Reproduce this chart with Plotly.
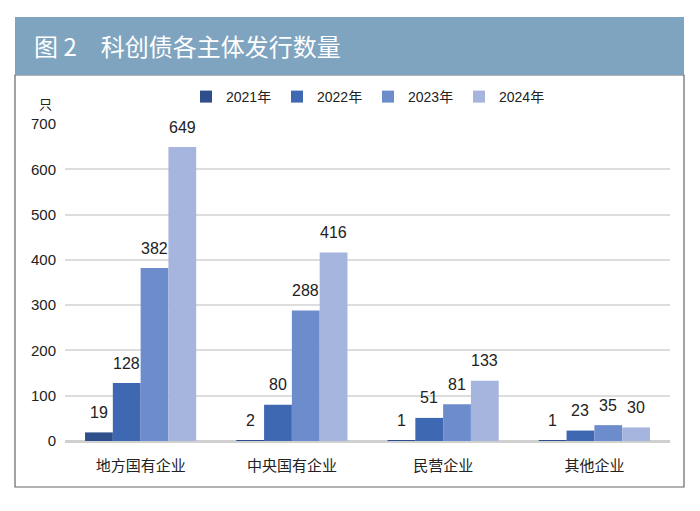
import plotly.graph_objects as go

categories = ["地方国有企业", "中央国有企业", "民营企业", "其他企业"]
series_names = ["2021年", "2022年", "2023年", "2024年"]
v2021 = [19, 2, 1, 1]
v2022 = [128, 80, 51, 23]
v2023 = [382, 288, 81, 35]
v2024 = [649, 416, 133, 30]
y_ticks = [0, 100, 200, 300, 400, 500, 600, 700]

series_values = [v2021, v2022, v2023, v2024]
colors = ["#2f4f8c", "#3f68b3", "#6d8ccb", "#a6b5dd"]

# page has an 8px body margin; figure sized to fill the rest of the window
OFF = 8
W, H = 700 - OFF, 511 - OFF
L, R, T, B = 65 - OFF, 700 - 670, 124 - OFF, 511 - 441
pw, ph = W - L - R, H - T - B
def px(x):  # screen pixel -> paper
    return (x - OFF - L) / pw
def py(y):
    return (H - B - (y - OFF)) / ph

FONT = "Liberation Sans, Arial, Noto Sans CJK SC, sans-serif"
CJK = "Noto Sans CJK SC, sans-serif"
bargap = 0.265

fig = go.Figure()
for name, vals, c in zip(series_names, series_values, colors):
    fig.add_trace(go.Bar(name=name, x=list(range(len(categories))), y=vals,
                         marker=dict(color=c, line=dict(width=0))))

# value labels above bars
n = len(series_names)
bw = (1 - bargap) / n
annotations = []
for i, vals in enumerate(series_values):
    off = -(1 - bargap) / 2 + bw * (i + 0.5)
    for j, v in enumerate(vals):
        annotations.append(dict(x=j + off, y=v, xref="x", yref="y", text=str(v),
                                showarrow=False, yanchor="middle", yshift=20,
                                font=dict(family=FONT, size=16, color="#222")))

annotations.append(dict(x=px(32), y=py(46), xref="paper", yref="paper",
                        text="图 2　科创债各主体发行数量", showarrow=False,
                        xanchor="left", yanchor="middle",
                        font=dict(family=CJK, size=24, color="white")))
annotations.append(dict(x=px(45), y=py(104), xref="paper", yref="paper",
                        text="只", showarrow=False, xanchor="center", yanchor="middle",
                        font=dict(family=CJK, size=13, color="#222")))

shapes = [
    dict(type="rect", xref="paper", yref="paper", x0=px(15), x1=px(684), y0=py(75), y1=py(487),
         line=dict(color="#666", width=1.2), fillcolor="rgba(0,0,0,0)", layer="below"),
    dict(type="rect", xref="paper", yref="paper", x0=px(15), x1=px(684), y0=py(17), y1=py(75),
         line=dict(width=0), fillcolor="#7fa4c0", layer="below"),
]

fig.update_layout(
    width=W, height=H,
    margin=dict(l=L, r=R, t=T, b=B, autoexpand=False),
    paper_bgcolor="white", plot_bgcolor="white",
    barmode="group", bargap=bargap, bargroupgap=0,
    showlegend=True,
    legend=dict(orientation="h", x=px(186), y=py(97), xanchor="left", yanchor="middle",
                font=dict(family=FONT, size=14, color="#222"),
                entrywidth=46, entrywidthmode="pixels", itemwidth=30,
                bgcolor="rgba(0,0,0,0)"),
    xaxis=dict(tickmode="array", tickvals=list(range(len(categories))), ticktext=categories,
               range=[-0.5, len(categories) - 0.5], showgrid=False, showline=False,
               zeroline=False, ticks="", ticklabelstandoff=14,
               tickfont=dict(family=CJK, size=15, color="#222")),
    yaxis=dict(range=[0, 700], tickvals=y_ticks, showgrid=True, gridcolor="#dddddd",
               gridwidth=2, zeroline=True, zerolinecolor="#d0d0d0", zerolinewidth=3,
               showline=False, ticks="", ticklabelstandoff=8,
               tickfont=dict(family=FONT, size=15, color="#222")),
    annotations=annotations,
    shapes=shapes,
)

fig.write_html("out.html")
